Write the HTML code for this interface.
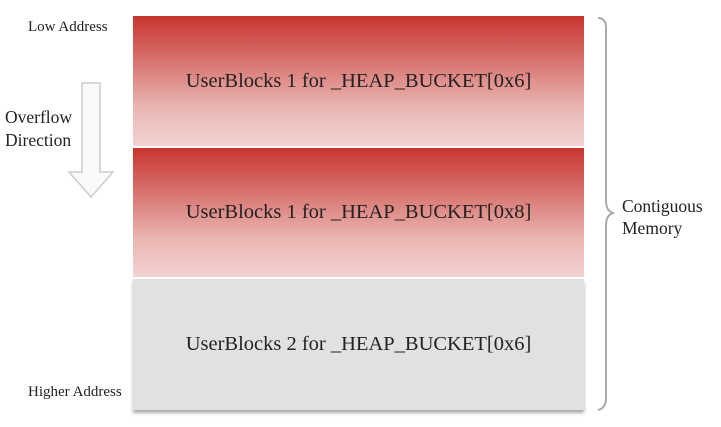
<!DOCTYPE html>
<html><head><style>
body{margin:0;width:721px;height:427px;background:#fff;position:relative;overflow:hidden;font-family:"Liberation Serif",serif;color:#222}
.b{position:absolute;left:133px;width:451px;display:flex;align-items:center;justify-content:center;font-size:20.5px}
.r{background:linear-gradient(#c8352f 0%,#d66a66 30%,#eab5b2 70%,#f3d3d1 100%)}
.t{position:absolute;font-size:15px}
</style></head><body>
<div class="b r" style="top:16px;height:130px">UserBlocks 1 for _HEAP_BUCKET[0x6]</div>
<div class="b r" style="top:148px;height:129px">UserBlocks 1 for _HEAP_BUCKET[0x8]</div>
<div class="b" style="top:279px;height:131px;background:#e1e1e1;box-shadow:0 3px 3px #aaa">UserBlocks 2 for _HEAP_BUCKET[0x6]</div>
<div class="t" style="left:28px;top:19px">Low Address</div>
<div class="t" style="left:28px;top:384px">Higher Address</div>
<div class="t" style="left:5px;top:106px;font-size:17.5px;line-height:23px">Overflow<br>Direction</div>
<svg style="position:absolute;left:0;top:0" width="721" height="427">
<path d="M82 83 H100 V172 H113 L91 197 L69 172 H82 Z" fill="#fafafa" stroke="#ccc" stroke-width="1.5"/>
<path d="M598 18 Q606 18 606 28 V200 Q606 212 614 213 Q606 214 606 226 V398 Q606 408 598 410" fill="none" stroke="#aaa" stroke-width="2"/>
</svg>
<div class="t" style="left:622px;top:195px;font-size:17.5px;line-height:22px">Contiguous<br>Memory</div>
</body></html>
